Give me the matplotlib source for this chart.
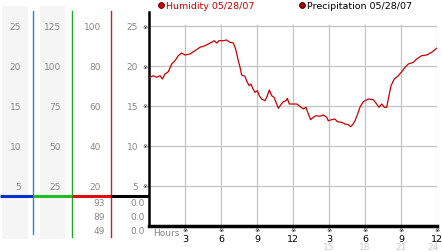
"""
Humidity chart for 05/28/07 in the old weather-station style
"""

import matplotlib
matplotlib.use("Agg")
import matplotlib.pyplot as plt

# data (hours since midnight, relative humidity %)
hours = [0.08, 0.36, 0.64, 0.92, 1.11, 1.33, 1.61, 1.89, 2.17, 2.44, 2.72,
         3.0, 3.42, 3.83, 4.25, 4.67, 4.94, 5.22, 5.42, 5.64, 5.83, 6.19,
         6.47, 6.75, 7.03, 7.22, 7.44, 7.58, 7.72, 8.0, 8.19, 8.36, 8.5,
         8.64, 8.83, 9.03, 9.19, 9.39, 9.67, 9.86, 10.03, 10.22, 10.42,
         10.64, 10.78, 10.97, 11.19, 11.42, 11.53, 11.69, 12.03, 12.31,
         12.58, 12.86, 13.08, 13.28, 13.47, 13.69, 13.92, 14.25, 14.53,
         14.81, 14.94, 15.22, 15.5, 15.69, 16.06, 16.33, 16.61, 16.81,
         16.97, 17.17, 17.36, 17.58, 17.86, 18.28, 18.69, 18.97, 19.17,
         19.39, 19.61, 19.81, 19.94, 20.17, 20.44, 20.78, 21.06, 21.33,
         21.61, 22.03, 22.31, 22.72, 23.14, 23.56, 23.97]
humidity = [74.35, 75.15, 74.35, 75.15, 73.5, 76, 77.15, 81, 82.65, 85.15,
            86.5, 85.5, 86, 87.65, 89.35, 90.15, 91, 91.85, 92.65, 91.5,
            92.65, 92.65, 93, 91.85, 91.5, 88.5, 82.65, 79.5, 75.5, 74.85,
            71.85, 70.15, 71, 68.85, 66.85, 67.65, 65.15, 63.5, 62.65, 65.15,
            68, 65.15, 64.35, 61, 58.85, 60.5, 62.15, 62.65, 63.85, 61, 61,
            61, 59.85, 58.5, 59.35, 56, 53.15, 54.35, 55.15, 54.85, 55.5,
            54.35, 52.65, 53.15, 53.5, 52.15, 51.85, 51, 50.65, 49.65, 50.65,
            52.65, 55.5, 59.35, 62.15, 63.5, 63.15, 61, 59.35, 61, 59.35,
            59.35, 63.5, 70.15, 73.5, 75.15, 77.15, 79.35, 81, 81.85, 83.5,
            85.15, 85.5, 86.85, 88.85]

hour_ticks = [3, 6, 9, 12, 15, 18, 21, 24]
hour_labels = ["3", "6", "9", "12", "3", "6", "9", "12"]
hour_labels_24 = ["15", "18", "21", "24"]

scale_a = [25, 20, 15, 10, 5]
scale_b = [125, 100, 75, 50, 25]
scale_c = [100, 80, 60, 40, 20]
scale_d = [25, 20, 15, 10, 5]
stats_c = ["93", "89", "49"]
stats_d = ["0.0", "0.0", "0.0"]

W, H = 442, 253
RED = "#cc0000"
GRAY = "#888888"

fig = plt.figure(figsize=(W / 100, H / 100), dpi=100)

# overlay axes in pixel coordinates for the side scales
ov = fig.add_axes([0, 0, 1, 1])
ov.set_xlim(0, W)
ov.set_ylim(H, 0)
ov.axis("off")

# light bands behind the first two scales
ov.fill_between([2, 28], 7, 240, color="#f5f5f5", lw=0)
ov.fill_between([40, 65], 7, 240, color="#f5f5f5", lw=0)

# coloured separators
ov.plot([33, 33], [12, 235], color="#1e90c8", lw=1)
ov.plot([72, 72], [12, 238], color="#2ca02c", lw=1)
ov.plot([111, 111], [12, 238], color="#cc2020", lw=1)
ov.plot([0, 33], [197, 197], color="#0033cc", lw=2.2, solid_capstyle="butt")
ov.plot([33, 72], [197, 197], color="#22bb22", lw=2.2, solid_capstyle="butt")
ov.plot([72, 111], [197, 197], color="#dd1111", lw=2.2, solid_capstyle="butt")
ov.plot([111, 149], [197, 197], color="black", lw=2.2, solid_capstyle="butt")

# scale labels
for i in range(5):
    y = 27 + 40 * i
    ov.text(21, y, str(scale_a[i]), ha="right", va="center", fontsize=6.5, color=GRAY)
    ov.text(61, y, str(scale_b[i]), ha="right", va="center", fontsize=6.5, color=GRAY)
    ov.text(101, y, str(scale_c[i]), ha="right", va="center", fontsize=6.5, color=GRAY)
    ov.text(138, y, str(scale_d[i]), ha="right", va="center", fontsize=6.5, color=GRAY)
    ov.text(145, y, "※", ha="center", va="center", fontsize=4.5, color="black")

for i in range(3):
    y = 204 + 14 * i
    ov.text(105, y, stats_c[i], ha="right", va="center", fontsize=6.5, color=GRAY)
    ov.text(145, y, stats_d[i], ha="right", va="center", fontsize=6.5, color=GRAY)

# legend
ov.scatter([161], [6], s=18, color=RED, edgecolor="#550000", lw=0.6, zorder=5)
ov.text(166, 6, "Humidity 05/28/07", ha="left", va="center", fontsize=6.8, color=RED)
ov.scatter([302], [6], s=18, color="#aa0000", edgecolor="#330000", lw=0.6, zorder=5)
ov.text(307, 6, "Precipitation 05/28/07", ha="left", va="center", fontsize=6.8, color="black")

# hour labels
ov.text(153, 234, "Hours", ha="left", va="center", fontsize=6.5, color=GRAY)

# main plot
x0, x1, ytop, ybot = 149, 437, 13, 227
ax = fig.add_axes([x0 / W, (H - ybot) / H, (x1 - x0) / W, (ybot - ytop) / H])
ax.set_xlim(0, 24)
ax.set_ylim(0, 107)
ax.patch.set_alpha(0)
for s in ["top", "right"]:
    ax.spines[s].set_visible(False)
ax.spines["left"].set_linewidth(1.8)
ax.spines["bottom"].set_linewidth(2.5)
ax.set_xticks([])
ax.set_yticks([])

ax.hlines([20, 40, 60, 80, 100], 0, 24, color="#c4c4c4", lw=0.9)
ax.vlines(hour_ticks, 0, 101, color="#c4c4c4", lw=0.9)
ax.plot(hours, humidity, color=RED, lw=0.9, zorder=3)

for h, lab in zip(hour_ticks, hour_labels):
    px = x0 + (x1 - x0) * h / 24
    ov.text(px, 231, "※", ha="center", va="center", fontsize=4.5, color="black")
    ov.text(px, 240, lab, ha="center", va="center", fontsize=6.8, color="black")
for h, lab in zip(hour_ticks[4:], hour_labels_24):
    px = x0 + (x1 - x0) * h / 24
    ov.text(min(px, 433), 248, lab, ha="center", va="center", fontsize=6.5, color="#cccccc")

fig.savefig("out.png", dpi=100)
